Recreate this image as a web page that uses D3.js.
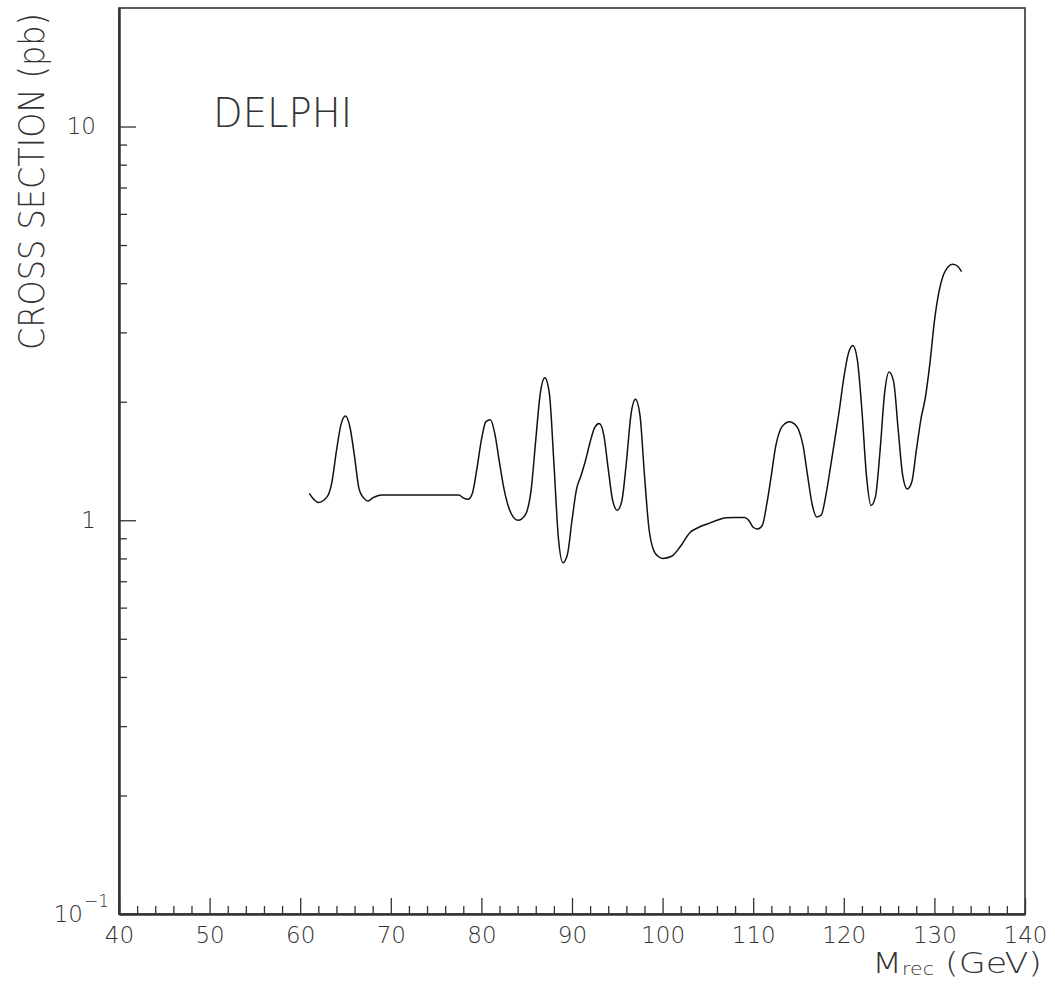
<!DOCTYPE html>
<html><head><meta charset="utf-8">
<script src="https://cdn.jsdelivr.net/npm/d3@7"></script>
<style>
html,body{margin:0;padding:0;background:#fff;}
svg{display:block;}
text{font-family:"DejaVu Sans","Liberation Sans",Arial,sans-serif;font-weight:200;fill:#333;}
</style></head>
<body>
<svg id="chart" width="1055" height="990"></svg>
<script>
// ---- data ----
const massGeV = [61,61.5,62,63,63.5,64,64.5,65,65.5,66,66.5,67,67.5,68,69,70,72,74,76,77,77.5,78,78.5,79,79.5,80,80.5,81,81.5,82,82.5,83,83.5,84,84.5,85,85.5,86,86.5,87,87.5,88,88.5,89,89.5,90,90.5,91,91.5,92,92.5,93,93.5,94,94.5,95,95.5,96,96.5,97,97.5,98,98.5,99,99.5,100,101,102,103,104,105,106,107,108,109,109.5,110,110.5,111,111.5,112,112.5,113,113.5,114,114.5,115,115.5,116,116.5,117,117.5,118,118.5,119,119.5,120,120.5,121,121.5,122,122.5,123,123.5,124,124.5,125,125.5,126,126.5,127,127.5,128,128.5,129,129.5,130,130.5,131,131.5,132,132.5,133];
const crossSectionPb = [1.17,1.13,1.11,1.15,1.25,1.5,1.75,1.84,1.72,1.45,1.2,1.14,1.12,1.14,1.16,1.16,1.16,1.16,1.16,1.16,1.16,1.14,1.13,1.17,1.35,1.6,1.78,1.80,1.65,1.4,1.2,1.08,1.02,1.0,1.01,1.05,1.2,1.6,2.1,2.30,2.1,1.4,0.9,0.78,0.82,1.0,1.2,1.3,1.42,1.58,1.72,1.76,1.65,1.35,1.12,1.06,1.12,1.4,1.85,2.03,1.85,1.3,0.95,0.84,0.81,0.80,0.81,0.86,0.93,0.96,0.98,1.0,1.015,1.016,1.016,1.0,0.96,0.95,0.97,1.1,1.3,1.55,1.7,1.76,1.78,1.76,1.7,1.55,1.3,1.1,1.02,1.03,1.15,1.35,1.6,1.9,2.3,2.65,2.78,2.55,1.9,1.3,1.09,1.15,1.5,2.1,2.38,2.25,1.7,1.3,1.2,1.25,1.5,1.8,2.05,2.5,3.2,3.8,4.2,4.4,4.47,4.43,4.28];
const xMajorTicks = [40,50,60,70,80,90,100,110,120,130,140];
const xMinorTicks = d3.range(40,141,2).filter(v => v % 10 !== 0);
const yMajorTicks = [0.1,1,10];
const yMinorTicks = [0.2,0.3,0.4,0.5,0.6,0.7,0.8,0.9,2,3,4,5,6,7,8,9];
const xTickLabels = ["40","50","60","70","80","90","100","110","120","130","140"];
const yTickLabels = {"1":"1","10":"10"};
const experimentLabel = "DELPHI";
const yTitle = "CROSS SECTION (pb)";

// ---- layout ----
const L = 119, R = 1025, T = 8, B = 914;
const FONT = "'DejaVu Sans','Liberation Sans',Arial,sans-serif";
const svg = d3.select("#chart");
const x = d3.scaleLinear().domain([40,140]).range([L,R]);
const y = d3.scaleLog().domain([0.1,20]).range([B,T]);

// frame
svg.append("rect").attr("x",L).attr("y",T).attr("width",R-L).attr("height",B-T)
  .attr("fill","none").attr("stroke","#333").attr("stroke-width",1.6);

// x axis
const gxMin = svg.append("g").attr("transform",`translate(0,${B})`)
  .call(d3.axisBottom(x).tickValues(xMinorTicks).tickSize(-8).tickSizeOuter(0).tickFormat(""));
const gx = svg.append("g").attr("transform",`translate(0,${B})`)
  .call(d3.axisBottom(x).tickValues(xMajorTicks).tickSize(-16).tickSizeOuter(0).tickPadding(13)
    .tickFormat((d,i)=>xTickLabels[i]));
// y axis
const gyMin = svg.append("g").attr("transform",`translate(${L},0)`)
  .call(d3.axisLeft(y).tickValues(yMinorTicks).tickSize(-8).tickSizeOuter(0).tickFormat(""));
const gy = svg.append("g").attr("transform",`translate(${L},0)`)
  .call(d3.axisLeft(y).tickValues(yMajorTicks).tickSize(-17).tickSizeOuter(0).tickPadding(23)
    .tickFormat(d => yTickLabels[String(d)] || ""));

[gxMin,gx,gyMin,gy].forEach(g=>{
  g.attr("font-family",FONT).attr("font-size",23);
  g.select(".domain").attr("stroke","#333").attr("stroke-width",2);
  g.selectAll(".tick line").attr("stroke","#333").attr("stroke-width",1.3);
  g.selectAll("text").attr("fill","#333").attr("font-weight",200);
});

// 10^-1 label
const lab = svg.append("text").attr("x",L-10).attr("y",y(0.1)+8)
  .attr("text-anchor","end").attr("font-size",23);
lab.append("tspan").text("10");
lab.append("tspan").attr("dx",1).attr("dy",-15).attr("font-size",17).text("\u22121");

// curve
const line = d3.line().x((d,i)=>x(massGeV[i])).y(d=>y(d)).curve(d3.curveMonotoneX);
svg.append("path").datum(crossSectionPb).attr("d",line)
  .attr("fill","none").attr("stroke","#111").attr("stroke-width",1.5);

// DELPHI label
svg.append("text").attr("x",213).attr("y",127).attr("font-size",40)
  .attr("textLength",139).attr("lengthAdjust","spacingAndGlyphs").text(experimentLabel);

// y title
svg.append("text").attr("transform",`translate(44,13) rotate(-90)`)
  .attr("text-anchor","end").attr("font-size",36)
  .attr("textLength",337).attr("lengthAdjust","spacingAndGlyphs").text(yTitle);

// x title
const xt = svg.append("text").attr("x",1042).attr("y",973).attr("text-anchor","end").attr("font-size",29)
  .attr("textLength",170).attr("lengthAdjust","spacingAndGlyphs");
xt.append("tspan").text("M");
xt.append("tspan").attr("font-size",17).attr("dy",2).text("rec");
xt.append("tspan").attr("dy",-2).text(" (GeV)");
</script>
</body></html>
